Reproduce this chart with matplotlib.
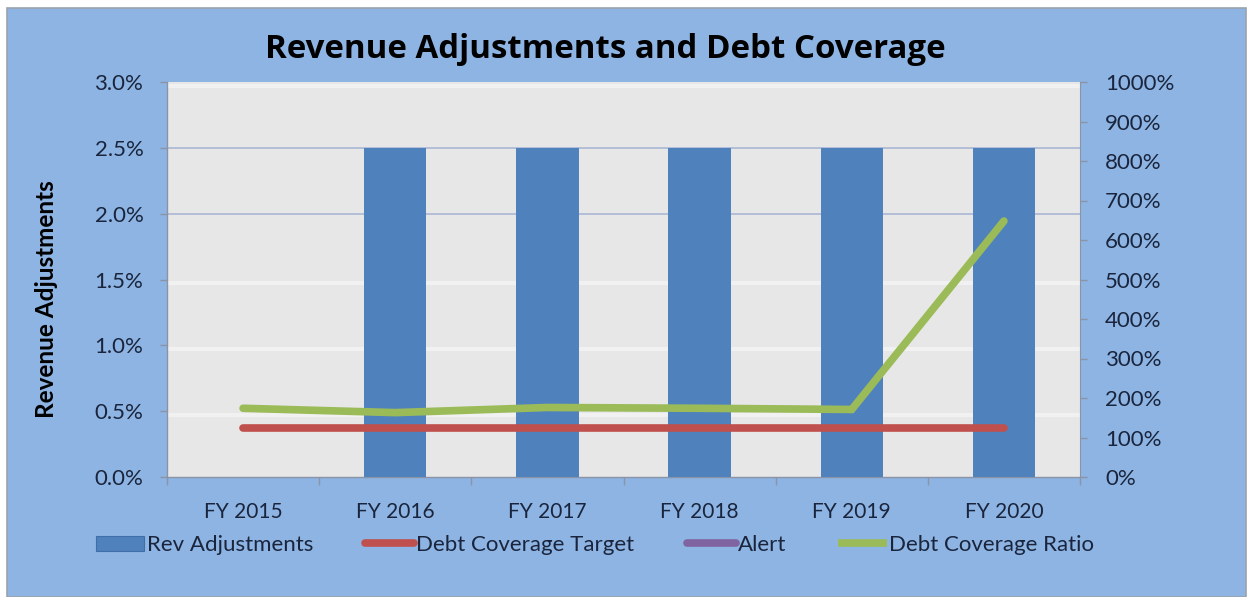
import numpy as np
import matplotlib
matplotlib.use("Agg")
import matplotlib.pyplot as plt
from matplotlib.patches import Rectangle, Patch
from matplotlib.lines import Line2D
from matplotlib.ticker import FuncFormatter, FixedLocator, MultipleLocator

plt.rcParams['font.family'] = ['Lato', 'DejaVu Sans']

# Data
years = ["FY 2015", "FY 2016", "FY 2017", "FY 2018", "FY 2019", "FY 2020"]
rev_adjustments = [0.0, 2.5, 2.5, 2.5, 2.5, 2.5]          # percent
debt_coverage_target = [125, 125, 125, 125, 125, 125]      # percent
alert = [np.nan] * 6                                        # percent (no values)
debt_coverage_ratio = [174, 163, 176, 174, 171, 648]       # percent

# Colours
BG = "#8DB4E2"
PLOT_BG = "#E7E7E7"
TEXT = "#1A253D"
BAR = "#4F81BD"
RED = "#C0504D"
PURPLE = "#8064A2"
GREEN = "#9BBB59"
AXIS = "#8A94A6"

W, H = 1251, 597
fig = plt.figure(figsize=(W / 100, H / 100), dpi=100)
fig.patch.set_facecolor("white")

# Chart area frame
fig.patches.append(Rectangle((7 / W, 0), (1246 - 7) / W, (H - 8) / H,
                             transform=fig.transFigure, facecolor=BG,
                             edgecolor="#9AA3AE", linewidth=1.2, zorder=0))

L, R, T, B = 167, 1080, 82, 477
ax = fig.add_axes([L / W, (H - B) / H, (R - L) / W, (B - T) / H])
ax.set_facecolor(PLOT_BG)
ax.set_zorder(1)

x = np.arange(len(years))
ax.bar(x, rev_adjustments, width=0.41, color=BAR, zorder=3)

ax.set_xlim(-0.5, len(years) - 0.5)
ax.set_ylim(0, 3.0)
ax.yaxis.set_major_locator(MultipleLocator(0.5))
ax.yaxis.set_major_formatter(FuncFormatter(lambda v, p: f"{v:.1f}%"))

# Gridlines: soft light bands plus visible upper lines
for yv in [0.5, 1.0, 1.5, 3.0]:
    ax.axhline(yv - 0.03, color="#F1F1F1", linewidth=3, zorder=1)
for yv in [2.0, 2.5]:
    ax.axhline(yv, color="#AAB6D3", linewidth=1.2, zorder=2)

ax.set_xticks(x)
ax.set_xticklabels(years)
ax.xaxis.set_minor_locator(FixedLocator(np.arange(-0.5, len(years), 1.0)))
ax.tick_params(axis="x", which="major", length=0, pad=18, labelsize=15, labelcolor=TEXT)
ax.tick_params(axis="x", which="minor", length=6, width=1, color=AXIS, direction="out")
ax.tick_params(axis="y", length=5, width=1, color=AXIS, pad=12, labelsize=16, labelcolor=TEXT)

for side in ["top", "right"]:
    ax.spines[side].set_visible(False)
for side in ["left", "bottom"]:
    ax.spines[side].set_color(AXIS)
    ax.spines[side].set_linewidth(1)

fig.text(47 / W, 1 - 299 / H, "Revenue Adjustments", rotation=90, ha="center", va="center",
         fontsize=17.5, fontweight="bold", color="black")

# Secondary axis for coverage ratios
ax2 = ax.twinx()
ax2.set_ylim(0, 1000)
ax2.yaxis.set_major_locator(MultipleLocator(100))
ax2.yaxis.set_major_formatter(FuncFormatter(lambda v, p: f"{v:.0f}%"))
ax2.tick_params(axis="y", length=5, width=1, color=AXIS, pad=13, labelsize=16, labelcolor=TEXT)
for side in ["top", "left", "bottom"]:
    ax2.spines[side].set_visible(False)
ax2.spines["right"].set_color(AXIS)

ax2.plot(x, debt_coverage_target, color=RED, linewidth=5.5, solid_capstyle="round", zorder=4)
ax2.plot(x, alert, color=PURPLE, linewidth=5.5, solid_capstyle="round", zorder=4)
ax2.plot(x, debt_coverage_ratio, color=GREEN, linewidth=5.5, solid_capstyle="round",
         solid_joinstyle="miter", zorder=5)

fig.text(605 / W, 1 - 49 / H, "Revenue Adjustments and Debt Coverage",
         ha="center", va="center", fontsize=23.8, fontweight="bold", color="black",
         family=["Open Sans", "DejaVu Sans"])

handles = [
    Patch(facecolor=BAR, edgecolor="#3F6EA8", linewidth=0.8),
    Line2D([], [], color=RED, linewidth=5.5, solid_capstyle="round"),
    Line2D([], [], color=PURPLE, linewidth=5.5, solid_capstyle="round"),
    Line2D([], [], color=GREEN, linewidth=5.5, solid_capstyle="butt"),
]
labels = ["Rev Adjustments", "Debt Coverage Target", "Alert", "Debt Coverage Ratio"]
leg = fig.legend(handles, labels, loc="center", bbox_to_anchor=(595 / W, 1 - 545 / H),
                 ncol=4, frameon=False, fontsize=16, handlelength=2.2, handleheight=0.65,
                 handletextpad=0.1, columnspacing=2.35, labelcolor=TEXT)

fig.savefig("out.png", dpi=100, facecolor=fig.get_facecolor())
